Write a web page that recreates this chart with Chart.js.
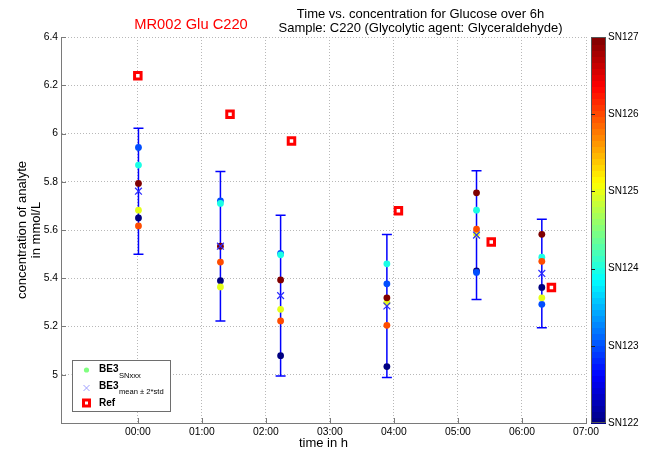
<!DOCTYPE html>
<html>
<head>
<meta charset="utf-8">
<title>MR002 Glu C220</title>
<script src="https://cdn.jsdelivr.net/npm/chart.js@4.4.0/dist/chart.umd.min.js"></script>
<style>
    html, body { margin: 0; padding: 0; background: #fff; }
    #wrap { width: 659px; height: 452px; position: relative; }
</style>
</head>
<body>
<div id="wrap"><canvas id="chart"></canvas></div>
<script>
// Sensors (colour bar goes SN122 at the bottom -> SN127 at the top)
const sensorNames = ['SN122', 'SN123', 'SN124', 'SN125', 'SN126', 'SN127'];

// BE3 group times in hours
const be3Times = [0.01, 1.29, 2.23, 3.89, 5.29, 6.31];

// Glucose per sensor, mmol/L (one value per group)
const sn122 = [5.650, 5.390, 5.079, 5.034, 5.430, 5.362];
const sn123 = [5.942, 5.721, 5.503, 5.377, 5.424, 5.292];
const sn124 = [5.869, 5.710, 5.497, 5.460, 5.682, 5.487];
const sn125 = [5.682, 5.364, 5.271, 5.299, 5.583, 5.319];
const sn126 = [5.617, 5.467, 5.223, 5.205, 5.604, 5.470];
const sn127 = [5.793, 5.533, 5.393, 5.319, 5.754, 5.582];

// BE3 mean and 2*std
const be3Mean = [5.761, 5.533, 5.328, 5.285, 5.579, 5.420];
const be3TwoStd = [0.261, 0.310, 0.333, 0.296, 0.267, 0.225];

// Reference analyser
const refTimes = [0.00, 1.44, 2.40, 4.07, 5.52, 6.46];
const refValues = [6.239, 6.080, 5.969, 5.680, 5.550, 5.362];

// Axis ticks
const hourTicks = [0, 1, 2, 3, 4, 5, 6, 7];
const hourLabels = ['00:00', '01:00', '02:00', '03:00', '04:00', '05:00', '06:00', '07:00'];
const concTicks = [5.0, 5.2, 5.4, 5.6, 5.8, 6.0, 6.2, 6.4];
const concLabels = ['5', '5.2', '5.4', '5.6', '5.8', '6', '6.2', '6.4'];

const FONT = '"Liberation Sans", Arial, sans-serif';
const AXIS_GREY = '#7a7a7a';

// jet colormap
function jet(t) {
    const c = v => Math.round(255 * Math.max(0, Math.min(1, v)));
    return `rgb(${c(1.5 - Math.abs(4 * t - 3))},${c(1.5 - Math.abs(4 * t - 2))},${c(1.5 - Math.abs(4 * t - 1))})`;
}

const sensorValues = [sn122, sn123, sn124, sn125, sn126, sn127];
const toPoints = (xs, ys) => xs.map((x, i) => ({ x: x, y: ys[i] }));

const datasets = [];
datasets.push({
    label: 'Ref',
    data: toPoints(refTimes, refValues),
    pointStyle: 'rect',
    pointRadius: 4.6,
    backgroundColor: '#ffffff',
    borderColor: '#ff0000',
    borderWidth: 3,
    order: 1
});
datasets.push({
    label: 'BE3 mean',
    data: toPoints(be3Times, be3Mean),
    pointStyle: 'crossRot',
    pointRadius: 4.8,
    borderColor: '#2a2aff',
    borderWidth: 1.2,
    order: 2
});
sensorNames.forEach((name, i) => {
    datasets.push({
        label: name,
        data: toPoints(be3Times, sensorValues[i]),
        pointRadius: 3.4,
        backgroundColor: jet(i / (sensorNames.length - 1)),
        borderWidth: 0,
        order: 10 - i
    });
});

// error bars: mean +- 2*std
const errorBars = {
    id: 'errorBars',
    beforeDatasetsDraw(chart) {
        const { ctx, scales: { x, y } } = chart;
        ctx.save();
        ctx.strokeStyle = '#0000ff';
        ctx.lineWidth = 1.5;
        be3Times.forEach((t, i) => {
            const px = x.getPixelForValue(t);
            const top = y.getPixelForValue(be3Mean[i] + be3TwoStd[i]);
            const bot = y.getPixelForValue(be3Mean[i] - be3TwoStd[i]);
            ctx.beginPath();
            ctx.moveTo(px, top); ctx.lineTo(px, bot);
            ctx.moveTo(px - 5, top); ctx.lineTo(px + 5, top);
            ctx.moveTo(px - 5, bot); ctx.lineTo(px + 5, bot);
            ctx.stroke();
        });
        ctx.restore();
    }
};

// inward tick marks like the original
const innerTicks = {
    id: 'innerTicks',
    afterDatasetsDraw(chart) {
        const { ctx, chartArea: a, scales: { x, y } } = chart;
        ctx.save();
        ctx.strokeStyle = AXIS_GREY;
        ctx.lineWidth = 1;
        ctx.beginPath();
        x.ticks.forEach(t => {
            const px = Math.round(x.getPixelForValue(t.value)) + 0.5;
            ctx.moveTo(px, a.bottom); ctx.lineTo(px, a.bottom - 5);
        });
        y.ticks.forEach(t => {
            const py = Math.round(y.getPixelForValue(t.value)) + 0.5;
            ctx.moveTo(a.left, py); ctx.lineTo(a.left + 5, py);
        });
        ctx.stroke();
        ctx.restore();
    }
};

// colour bar on the right
const colorBar = {
    id: 'colorBar',
    afterDraw(chart) {
        const { ctx, chartArea: a } = chart;
        const left = a.right + 5, w = 15;
        const h = a.bottom - a.top;
        const bands = 64;
        ctx.save();
        for (let k = 0; k < bands; k++) {
            ctx.fillStyle = jet((k + 0.5) / bands);
            const y0 = a.bottom - (k + 1) * h / bands;
            ctx.fillRect(left, Math.floor(y0), w, Math.ceil(h / bands) + 1);
        }
        ctx.strokeStyle = '#555';
        ctx.lineWidth = 1;
        ctx.strokeRect(left + 0.5, a.top + 0.5, w - 1, h - 1);
        ctx.fillStyle = '#000';
        ctx.font = '10px ' + FONT;
        ctx.textBaseline = 'middle';
        ctx.textAlign = 'left';
        sensorNames.forEach((name, i) => {
            const py = a.bottom - i * h / (sensorNames.length - 1);
            if (i > 0 && i < sensorNames.length - 1) {
                ctx.beginPath();
                ctx.moveTo(left, Math.round(py) + 0.5);
                ctx.lineTo(left + 4, Math.round(py) + 0.5);
                ctx.strokeStyle = '#222';
                ctx.stroke();
            }
            ctx.fillText(name, left + w + 2, py);
        });
        ctx.restore();
    }
};

// legend box with subscripts
const legendBox = {
    id: 'legendBox',
    afterDraw(chart) {
        const { ctx, chartArea: a } = chart;
        const bx = a.left + 10.5, by = a.bottom - 63, bw = 98, bh = 51;
        ctx.save();
        ctx.fillStyle = '#fff';
        ctx.fillRect(bx, by, bw, bh);
        ctx.strokeStyle = '#6e6e6e';
        ctx.lineWidth = 1;
        ctx.strokeRect(Math.round(bx) + 0.5, Math.round(by) + 0.5, bw, bh);

        const mx = bx + 15, tx = bx + 27.5;
        const rows = [by + 9.5, by + 26, by + 42.5];

        ctx.fillStyle = jet(0.5);
        ctx.beginPath();
        ctx.arc(mx, rows[0] + 0.5, 2.6, 0, Math.PI * 2);
        ctx.fill();

        ctx.strokeStyle = '#9f9fff';
        ctx.lineWidth = 1;
        ctx.beginPath();
        ctx.moveTo(mx - 3, rows[1] - 1); ctx.lineTo(mx + 3, rows[1] + 5);
        ctx.moveTo(mx + 3, rows[1] - 1); ctx.lineTo(mx - 3, rows[1] + 5);
        ctx.stroke();

        ctx.strokeStyle = '#ff0000';
        ctx.lineWidth = 3;
        ctx.strokeRect(mx - 3, rows[2] - 2.5, 6, 6);

        ctx.fillStyle = '#000';
        ctx.textBaseline = 'middle';
        ctx.textAlign = 'left';
        const subs = ['SNxxx', 'mean \u00b1 2*std'];
        subs.forEach((s, i) => {
            ctx.font = 'bold 10px ' + FONT;
            ctx.fillText('BE3', tx, rows[i]);
            const w = ctx.measureText('BE3').width;
            ctx.font = '7.6px ' + FONT;
            ctx.fillText(s, tx + w + 0.5, rows[i] + 6);
        });
        ctx.font = 'bold 10px ' + FONT;
        ctx.fillText('Ref', tx, rows[2] + 1);
        ctx.restore();
    }
};

// two titles: red sample id and black description
const titles = {
    id: 'titles',
    afterDraw(chart) {
        const { ctx } = chart;
        ctx.save();
        ctx.textAlign = 'center';
        ctx.textBaseline = 'middle';
        ctx.fillStyle = '#ff0000';
        ctx.font = '14.7px ' + FONT;
        ctx.fillText('MR002 Glu C220', 191, 25);
        ctx.fillStyle = '#000';
        ctx.font = '13px ' + FONT;
        ctx.fillText('Time vs. concentration for Glucose over 6h', 420.5, 14);
        ctx.fillText('Sample: C220 (Glycolytic agent: Glyceraldehyde)', 420.5, 28.5);
        ctx.restore();
    }
};

const ctx = document.getElementById('chart').getContext('2d');
const chart = new Chart(ctx, {
    type: 'scatter',
    data: { datasets: datasets },
    options: {
        responsive: true,
        maintainAspectRatio: false,
        animation: false,
        devicePixelRatio: 1,
        layout: { padding: { left: 0, top: 37, right: 73, bottom: 0 } },
        plugins: {
            legend: { display: false },
            tooltip: { enabled: false },
            title: { display: false }
        },
        scales: {
            x: {
                type: 'linear',
                min: -1.2,
                max: 7.0,
                afterBuildTicks: scale => { scale.ticks = hourTicks.map(v => ({ value: v })); },
                afterFit: scale => { scale.height = 29; },
                grid: { color: '#b8b8b8', lineWidth: 1, drawTicks: false },
                border: { display: true, color: AXIS_GREY, width: 1, dash: [1, 2] },
                ticks: {
                    padding: 3,
                    color: '#000',
                    maxRotation: 0,
                    autoSkip: false,
                    font: { family: FONT, size: 10.3 },
                    callback: value => hourLabels[hourTicks.indexOf(Math.round(value))]
                },
                title: {
                    display: true,
                    text: 'time in h',
                    color: '#000',
                    font: { family: FONT, size: 13 },
                    padding: { top: 0, bottom: 1 }
                }
            },
            y: {
                type: 'linear',
                min: 4.8,
                max: 6.4,
                afterBuildTicks: scale => { scale.ticks = concTicks.map(v => ({ value: v })); },
                afterFit: scale => { scale.width = 61; },
                grid: { color: '#b8b8b8', lineWidth: 1, drawTicks: false },
                border: { display: true, color: AXIS_GREY, width: 1, dash: [1, 2] },
                ticks: {
                    padding: 3,
                    color: '#000',
                    autoSkip: false,
                    font: { family: FONT, size: 10.3 },
                    callback: value => concLabels[concTicks.findIndex(v => Math.abs(v - value) < 1e-6)]
                },
                title: {
                    display: true,
                    text: ['concentration of analyte', 'in mmol/L'],
                    color: '#000',
                    font: { family: FONT, size: 13, lineHeight: 1.05 },
                    padding: { top: 16, bottom: 0 }
                }
            }
        }
    },
    plugins: [errorBars, innerTicks, colorBar, legendBox, titles]
});
</script>
</body>
</html>
